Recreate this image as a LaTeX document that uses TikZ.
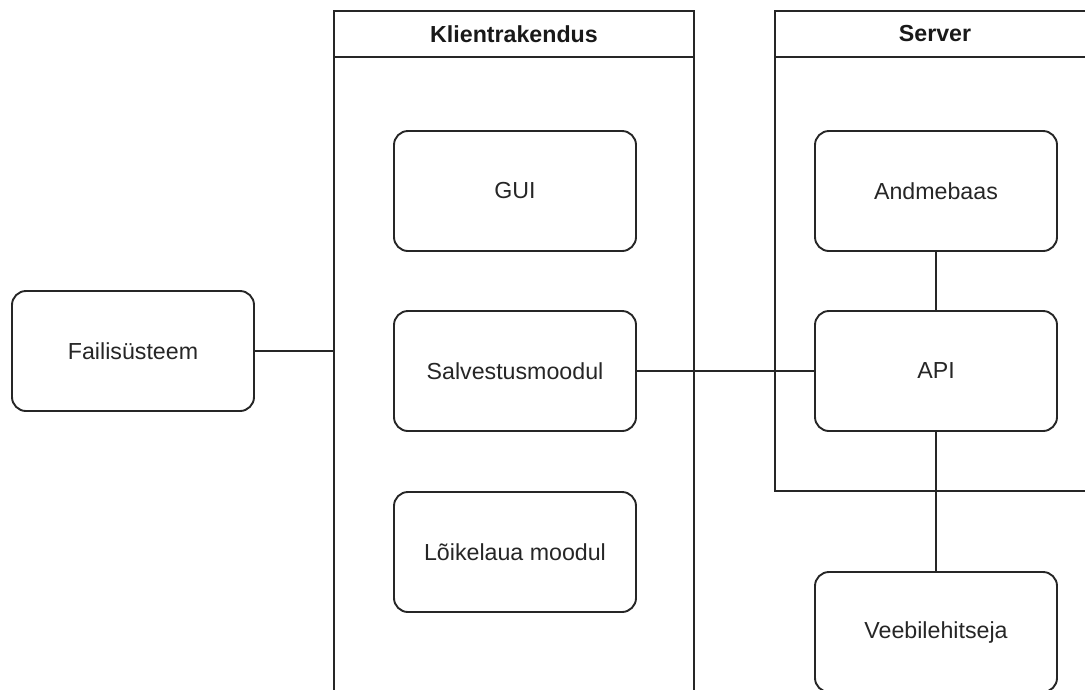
\documentclass[tikz,border=0pt]{standalone}
\usepackage{fontspec}
\setmainfont{Liberation Sans}
\begin{document}
\begin{tikzpicture}[x=1pt,y=-1pt,
  lw/.style={line width=1.9pt},
  box/.style={lw, draw=black!85, rounded corners=14pt, minimum width=242pt, minimum height=120pt, inner sep=0pt, align=center, font=\fontsize{23.2}{28}\selectfont, text=black!85},
  lane/.style={lw, draw=black!85},
  hdr/.style={font=\fontsize{23.2}{28}\selectfont\bfseries, text=black!90},
  conn/.style={lw, draw=black!85}]
\useasboundingbox (0,0) rectangle (1085,689);
\begin{scope}
\clip (0,0) rectangle (1085,689);
% lanes
\draw[lane] (334,720) -- (334,11) -- (694,11) -- (694,720);
\draw[lane] (334,57) -- (694,57);
\node[hdr] (klient) at (514,34) {Klientrakendus};
\draw[lane] (1120,491) -- (775,491) -- (775,11) -- (1120,11);
\draw[lane] (775,57) -- (1120,57);
\node[hdr] (server) at (935,34) {Server};
\coordinate (klientedge) at (334,351);
% boxes
\node[box] (fs) at (133,351) {Failisüsteem};
\node[box] (gui) at (515,191) {GUI};
\node[box] (salv) at (515,371) {Salvestusmoodul};
\node[box] (loik) at (515,552) {Lõikelaua moodul};
\node[box] (db) at (936,191) {Andmebaas};
\node[box] (api) at (936,371) {API};
\node[box] (web) at (936,632) {Veebilehitseja};
% connectors
\draw[conn] (fs.east) -- (klientedge);
\draw[conn] (salv.east) -- (api.west);
\draw[conn] (db.south) -- (api.north);
\draw[conn] (api.south) -- (web.north);
\end{scope}
\end{tikzpicture}
\end{document}
